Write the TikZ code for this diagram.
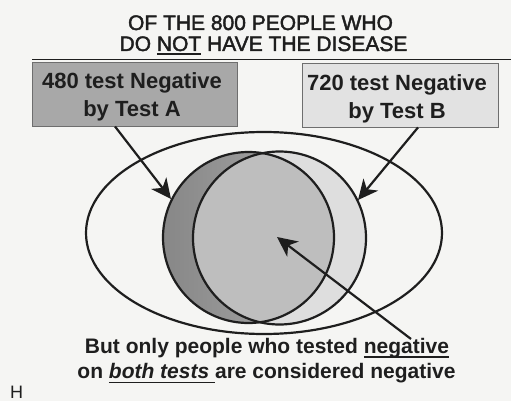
\documentclass[tikz,border=0pt]{standalone}
\usepackage{fontspec}
\setmainfont{Liberation Sans}
\newfontfamily\titlefont[FakeBold=2]{Liberation Sans}
\usetikzlibrary{arrows.meta,calc}
\definecolor{bgcol}{RGB}{245,245,243}
\definecolor{ink}{RGB}{30,30,30}
\definecolor{boxAfill}{RGB}{168,168,168}
\definecolor{boxBfill}{RGB}{226,226,226}
\definecolor{boxedge}{RGB}{110,110,110}
\definecolor{crescA}{RGB}{135,135,135}
\definecolor{crescAlt}{RGB}{172,172,172}
\definecolor{interfill}{RGB}{190,190,190}
\definecolor{crescB}{RGB}{222,222,222}
\newcommand\myul[2]{\setbox0\hbox{#2}\leavevmode\rlap{\rule[-#1]{\wd0}{1.5pt}}\box0\relax}
\tikzset{
  tbox/.style={draw=boxedge, line width=0.9pt, inner sep=0pt},
  boxtxt/.style={font=\bfseries\fontsize{22}{28.4}\selectfont, text=ink, align=center, inner sep=0pt},
  titletxt/.style={font=\titlefont\fontsize{21}{21}\selectfont, text=ink, anchor=base, inner sep=0pt},
  bottxt/.style={font=\bfseries\fontsize{21}{25}\selectfont, text=ink, anchor=base, inner sep=0pt},
  outline/.style={draw=ink, line width=2.2pt},
  arr/.style={draw=ink, line width=2.2pt, -{Stealth[length=20pt,width=19pt,inset=6pt]}}
}
\begin{document}
\begin{tikzpicture}[x=1pt,y=-1pt]
\useasboundingbox (0,0) rectangle (511,401);
\fill[bgcol] (0,0) rectangle (511,401);
% title
\node[titletxt] (t1) at (260.5,30) {OF THE 800 PEOPLE WHO};
\node[titletxt] (t2) at (263.5,51) {DO \myul{3.8pt}{NOT} HAVE THE DISEASE};
\draw[ink, line width=1.6pt] (32,59.5) -- (511,59.5);
% boxes
\node[tbox, fill=boxAfill, minimum width=205pt, minimum height=64pt] (bA) at (134.5,94) {};
\node[boxtxt] (tA) at (132,97) {480 test Negative\\by Test A};
\node[tbox, fill=boxBfill, minimum width=196pt, minimum height=64pt] (bB) at (400,95) {};
\node[boxtxt] (tB) at (397,98.6) {720 test Negative\\by Test B};
% circles fill
\shade[left color=crescA, right color=crescAlt] (248.5,237.5) circle[radius=85.5];
\fill[crescB] (279.5,238) circle[radius=86.5];
\begin{scope}
  \clip (248.5,237.5) circle[radius=85.5];
  \fill[interfill] (279.5,238) circle[radius=86.5];
\end{scope}
% outlines
\draw[outline] (264,233) ellipse[x radius=178, y radius=101];
\draw[outline] (248.5,237.5) circle[radius=85.5];
\draw[outline] (279.5,238) circle[radius=86.5];
% bottom text
\node[bottxt] (b1) at (267,353) {But only people who tested \myul{4.8pt}{negative}};
\node[bottxt] (b2) at (266.5,378) {on \myul{5.2pt}{\itshape both tests\ }are considered negative};
\node[font=\fontsize{18}{18}\selectfont, text=ink, anchor=base west, inner sep=0pt] (h) at (10,398) {H};
% arrows
\coordinate (tipA) at (171,199);
\coordinate (tipB) at (358,200);
\coordinate (tipC) at (277,237);
\coordinate (startC) at (411,339);
\draw[arr] ($(bA.south)+(-19.5,0)$) -- (tipA);
\draw[arr] ($(bB.south)+(18,0)$) -- (tipB);
\draw[arr] (startC) -- (tipC);
\end{tikzpicture}
\end{document}
